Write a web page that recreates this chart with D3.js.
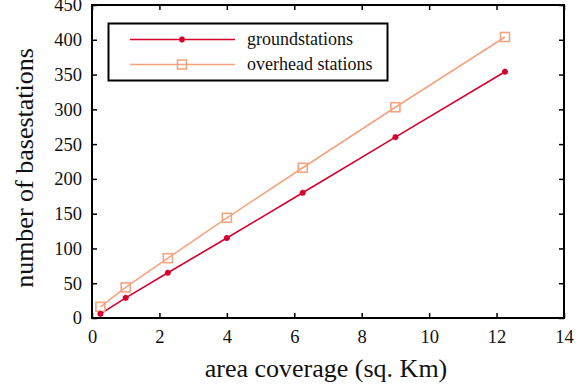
<!DOCTYPE html>
<html>
<head>
<meta charset="utf-8">
<script src="https://cdn.jsdelivr.net/npm/d3@7"></script>
<style>
  body { margin: 0; background: #fff; }
  text { font-family: "Liberation Serif", "Times New Roman", serif; fill: #111; }
</style>
</head>
<body>
<div id="chart"></div>
<script>
// data
var area = [0.25, 1, 2.25, 4, 6.25, 9, 12.25];
var ground = [6, 29, 65, 115, 180, 260, 354];
var overhead = [16, 44, 86, 144, 216, 303, 404];
var seriesNames = ["groundstations", "overhead stations"];
var xTicks = [0, 2, 4, 6, 8, 10, 12, 14];
var yTicks = [0, 50, 100, 150, 200, 250, 300, 350, 400, 450];

function draw() {
  var width = 588, height = 389;
  var pLeft = 92, pRight = 564, pTop = 5, pBottom = 318;
  var colors = ["#d5002c", "#f5a47f"];
  var serif = "'Liberation Serif', 'Times New Roman', serif";

  var svg = d3.select("#chart").append("svg")
    .attr("width", width).attr("height", height);

  var x = d3.scaleLinear().domain([0, 14]).range([pLeft, pRight]);
  var y = d3.scaleLinear().domain([0, 450]).range([pBottom, pTop]);

  // axes, ticks pointing inward
  var xAxis = svg.append("g").attr("transform", "translate(0," + pBottom + ")")
    .call(d3.axisBottom(x).tickValues(xTicks).tickSize(-5).tickPadding(12).tickFormat(d3.format("d")));
  var xTop = svg.append("g").attr("transform", "translate(0," + pTop + ")")
    .call(d3.axisTop(x).tickValues(xTicks).tickSize(-5).tickFormat(""));
  var yAxis = svg.append("g").attr("transform", "translate(" + pLeft + ",0)")
    .call(d3.axisLeft(y).tickValues(yTicks).tickSize(-5).tickPadding(10));
  var yRight = svg.append("g").attr("transform", "translate(" + pRight + ",0)")
    .call(d3.axisRight(y).tickValues(yTicks).tickSize(-5).tickFormat(""));

  [xAxis, xTop, yAxis, yRight].forEach(function (g) {
    g.attr("font-family", serif);
    g.select(".domain").remove();
    g.selectAll(".tick line").attr("stroke", "#000").attr("stroke-width", 1.5);
    g.selectAll("text").style("font-family", serif).style("font-size", "18.5px").attr("fill", "#111");
  });

  svg.append("rect")
    .attr("x", pLeft).attr("y", pTop)
    .attr("width", pRight - pLeft).attr("height", pBottom - pTop)
    .attr("fill", "none").attr("stroke", "#000").attr("stroke-width", 2);

  // lines
  var series = [ground, overhead];
  var line = d3.line()
    .x(function (d, i) { return x(area[i]); })
    .y(function (d) { return y(d); });

  series.forEach(function (s, k) {
    svg.append("path").datum(s)
      .attr("fill", "none").attr("stroke", colors[k]).attr("stroke-width", 1.6)
      .attr("d", line);
  });

  var star = d3.symbol().type(d3.symbolCross).size(20);

  function groundMarker(g) {
    g.append("path").attr("d", star).attr("fill", colors[0]);
    g.append("path").attr("d", star).attr("fill", colors[0]).attr("transform", "rotate(45)");
  }
  function overheadMarker(g) {
    g.append("rect").attr("x", -4.5).attr("y", -4.5).attr("width", 9).attr("height", 9)
      .attr("fill", "none").attr("stroke", colors[1]).attr("stroke-width", 1.6);
  }

  svg.append("g").selectAll("g").data(overhead).enter().append("g")
    .attr("transform", function (d, i) { return "translate(" + x(area[i]) + "," + y(d) + ")"; })
    .each(function () { overheadMarker(d3.select(this)); });
  svg.append("g").selectAll("g").data(ground).enter().append("g")
    .attr("transform", function (d, i) { return "translate(" + x(area[i]) + "," + y(d) + ")"; })
    .each(function () { groundMarker(d3.select(this)); });

  // legend
  var legend = svg.append("g");
  legend.append("rect")
    .attr("x", 108.5).attr("y", 23.5).attr("width", 279).attr("height", 57)
    .attr("fill", "#fff").attr("stroke", "#000").attr("stroke-width", 2);

  seriesNames.forEach(function (name, k) {
    var ly = 39.5 + k * 25;
    legend.append("line").attr("x1", 130).attr("x2", 235).attr("y1", ly).attr("y2", ly)
      .attr("stroke", colors[k]).attr("stroke-width", 1.6);
    var m = legend.append("g").attr("transform", "translate(182," + ly + ")");
    if (k === 0) groundMarker(m); else overheadMarker(m);
    legend.append("text").attr("x", 247).attr("y", ly + 5.5)
      .style("font-size", "18px").text(name);
  });

  // axis titles
  svg.append("text")
    .attr("x", 326).attr("y", 377)
    .attr("text-anchor", "middle").style("font-size", "26px")
    .text("area coverage (sq. Km)");

  svg.append("text")
    .attr("transform", "translate(33,168) rotate(-90)")
    .attr("text-anchor", "middle").style("font-size", "26px")
    .text("number of basestations");
}

draw();
</script>
</body>
</html>
